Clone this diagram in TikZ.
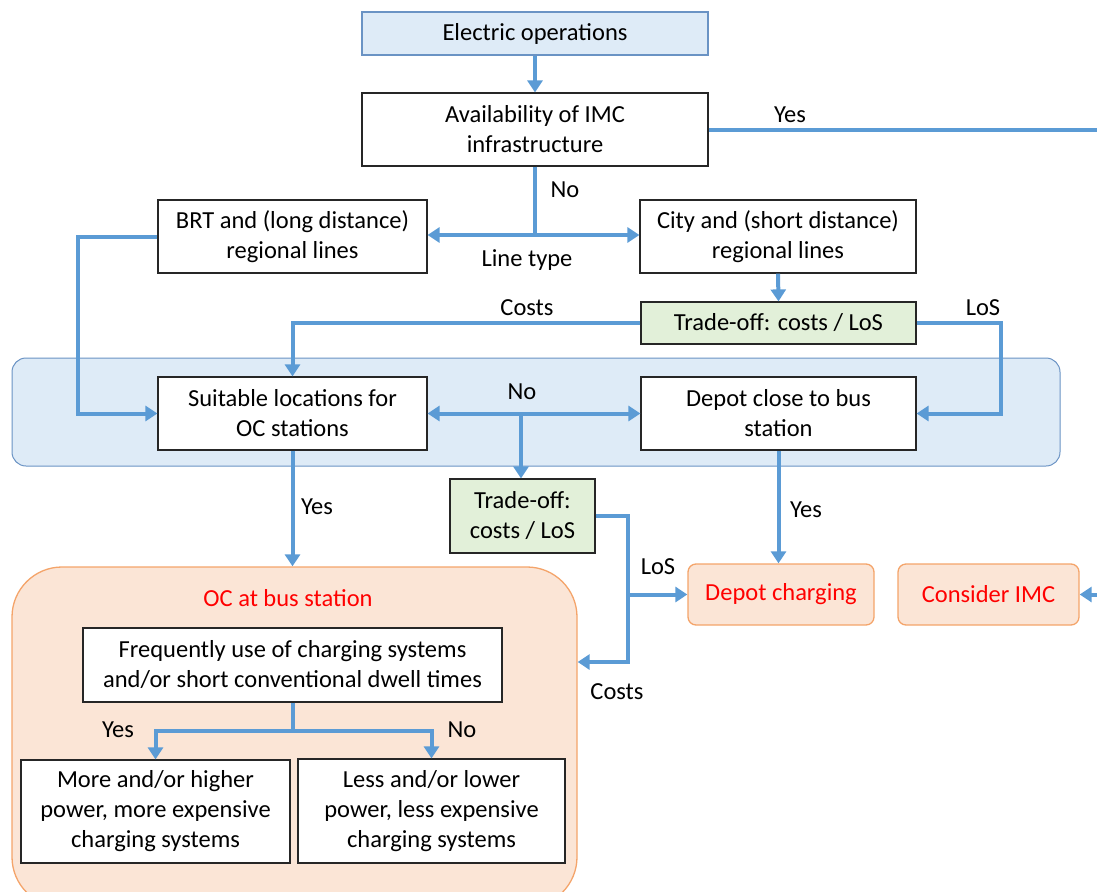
\documentclass[tikz,border=0pt]{standalone}
\usepackage{fontspec}
\setmainfont{Carlito}
\usetikzlibrary{arrows.meta}
\definecolor{lblue}{HTML}{5B9BD5}
\definecolor{bgblue}{HTML}{DEEBF7}
\definecolor{bdblue}{HTML}{6A93C4}
\definecolor{pfill}{HTML}{FBE5D6}
\definecolor{pdraw}{HTML}{F4A46A}
\definecolor{gfill}{HTML}{E2F0D9}
\tikzset{
  x=1pt,y=-1pt,
  every node/.style={font=\fontsize{24.5}{30}\selectfont},
  box/.style={draw=black!85,line width=1.2pt,fill=white,align=center,inner sep=0pt},
  gbox/.style={box,fill=gfill},
  pbox/.style={draw=pdraw,line width=1.3pt,fill=pfill,rounded corners=8pt,text=red,inner sep=0pt},
  lnk/.style={draw=lblue,line width=4pt},
  arr/.style={lnk,-{Triangle[length=12pt,width=15pt]}},
  lbl/.style={inner sep=1pt},
}
\begin{document}
\begin{tikzpicture}
\clip (0,0) rectangle (1097,891);
% backgrounds
\node[draw=bdblue,line width=1pt,fill=bgblue,rounded corners=14pt,minimum width=1048pt,minimum height=108pt,inner sep=0pt] (bg) at (536,412) {};
\node[draw=pdraw,line width=1.3pt,fill=pfill,rounded corners=50pt,minimum width=565pt,minimum height=340pt,inner sep=0pt] (ocreg) at (294.5,737) {};
% nodes
\node[box,fill=bgblue,draw=bdblue,minimum width=346pt,minimum height=43pt] (eo) at (535,33.5) {Electric operations};
\node[box,minimum width=346pt,minimum height=73pt] (avail) at (535,129.5) {Availability of IMC\\infrastructure};
\node[box,minimum width=269pt,minimum height=73pt] (brt) at (292.5,236.5) {BRT and (long distance)\\regional lines};
\node[box,minimum width=276pt,minimum height=73pt] (city) at (778,236.5) {City and (short distance)\\regional lines};
\node[gbox,minimum width=275pt,minimum height=42pt] (to1) at (778.5,323) {Trade-off: costs / LoS};
\node[box,minimum width=269pt,minimum height=73pt] (suit) at (292.5,413.5) {Suitable locations for\\OC stations};
\node[box,minimum width=275pt,minimum height=73pt] (depotc) at (778.5,413.5) {Depot close to bus\\station};
\node[gbox,minimum width=145pt,minimum height=74pt] (to2) at (522.5,516) {Trade-off:\\costs / LoS};
\node[pbox,minimum width=186pt,minimum height=61pt] (depch) at (781,594.5) {Depot charging};
\node[pbox,minimum width=181pt,minimum height=61pt] (cimc) at (988.5,594.5) {Consider IMC};
\node[text=red] (octitle) at (288,598) {OC at bus station};
\node[box,minimum width=419pt,minimum height=74pt] (freq) at (292.5,665) {Frequently use of charging systems\\and/or short conventional dwell times};
\node[box,minimum width=269pt,minimum height=103pt] (more) at (155.5,811.5) {More and/or higher\\power, more expensive\\charging systems};
\node[box,minimum width=267pt,minimum height=104pt] (less) at (431.5,811) {Less and/or lower\\power, less expensive\\charging systems};
% coordinates
\coordinate (n1) at (535,235);
\coordinate (n2) at (521,413.5);
\coordinate (j) at (628,594.5);
\coordinate (c1) at (628,662);
\coordinate (f) at (292.5,731);
\coordinate (far) at (1130,129.5);
% connectors
\draw[arr] (eo.south) -- (avail.north);
\draw[arr] (avail.east) -- (far) |- (cimc.east);
\draw[lnk] (avail.south) -- (n1);
\draw[arr] (n1) -- (brt.east |- n1);
\draw[arr] (n1) -- (city.west |- n1);
\draw[arr] (city.south) -- (to1.north);
\draw[arr] (to1.west) -| (suit.north);
\draw[arr] (to1.east) -- ++(84,0) |- (depotc.east);
\draw[arr] (brt.west) -- ++(-79,0) |- (suit.west);
\draw[arr] (n2) -- (suit.east);
\draw[arr] (n2) -- (depotc.west);
\draw[arr] (n2) -- (n2 |- to2.north);
\draw[arr] (to2.east) -| (c1) -- (ocreg.east |- c1);
\draw[arr] (j) -- (depch.west);
\draw[arr] (suit.south) -- (suit.south |- ocreg.north);
\draw[arr] (depotc.south) -- (depotc.south |- depch.north);
\draw[lnk] (freq.south) -- (f);
\draw[arr] (f) -| (more.north);
\draw[arr] (f) -| (less.north);
% labels
\node[lbl] at (790,115) {Yes};
\node[lbl] at (565,190) {No};
\node[lbl] at (527,260) {Line type};
\node[lbl] at (527,308) {Costs};
\node[lbl] at (983,308) {LoS};
\node[lbl] at (522,392) {No};
\node[lbl] at (317,507) {Yes};
\node[lbl] at (806,510) {Yes};
\node[lbl] at (658,567) {LoS};
\node[lbl] at (617,692) {Costs};
\node[lbl] at (118,730) {Yes};
\node[lbl] at (462,730) {No};
\end{tikzpicture}
\end{document}
